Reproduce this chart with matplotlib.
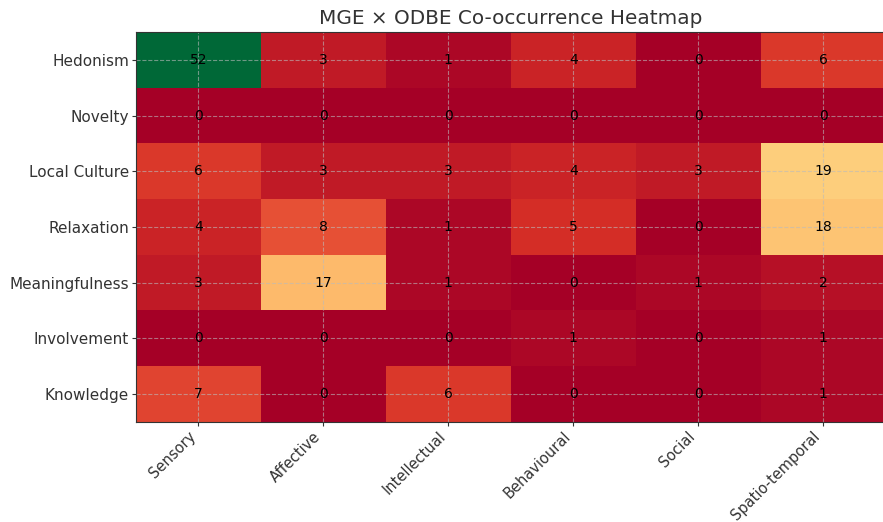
import matplotlib
matplotlib.use("Agg")
import matplotlib.pyplot as plt
import numpy as np

rows = ["Hedonism", "Novelty", "Local Culture", "Relaxation", "Meaningfulness", "Involvement", "Knowledge"]
cols = ["Sensory", "Affective", "Intellectual", "Behavioural", "Social", "Spatio-temporal"]
hedonism = [52, 3, 1, 4, 0, 6]
novelty = [0, 0, 0, 0, 0, 0]
local_culture = [6, 3, 3, 4, 3, 19]
relaxation = [4, 8, 1, 5, 0, 18]
meaningfulness = [3, 17, 1, 0, 1, 2]
involvement = [0, 0, 0, 1, 0, 1]
knowledge = [7, 0, 6, 0, 0, 1]

data = np.array([hedonism, novelty, local_culture, relaxation, meaningfulness, involvement, knowledge])

fig = plt.figure(figsize=(8.83, 5.22), dpi=100)
ax = fig.add_axes([0.154, 0.1916, 0.849, 0.747])
ax.imshow(data, cmap="RdYlGn", aspect="auto", vmin=0, vmax=data.max())
ax.set_xticks(range(len(cols)))
ax.set_xticklabels(cols, rotation=45, ha="right", fontsize=10.5, color="#333333")
ax.set_yticks(range(len(rows)))
ax.set_yticklabels(rows, fontsize=11, color="#333333")
ax.tick_params(length=3, pad=2, color="#333333")
for i in range(data.shape[0]):
    for j in range(data.shape[1]):
        ax.text(j, i, str(data[i, j]), ha="center", va="center", fontsize=10, color="black")
ax.grid(True, linestyle="--", color="#bbbbbb", alpha=0.6, linewidth=0.8)
for s in ax.spines.values():
    s.set_color("#333333")
ax.set_title("MGE × ODBE Co-occurrence Heatmap", fontsize=14.4, color="#333333")
fig.savefig("out.png", dpi=100)
